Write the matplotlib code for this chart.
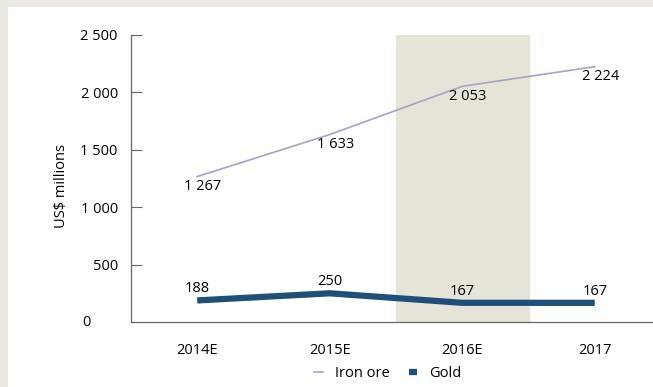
import numpy as np
import matplotlib.pyplot as plt
from matplotlib.lines import Line2D
from matplotlib.patches import Rectangle

plt.rcParams['font.family'] = ['Open Sans', 'DejaVu Sans']

years = ['2014E', '2015E', '2016E', '2017']
iron_ore = [1267, 1633, 2053, 2224]
gold = [188, 250, 167, 167]
yticks = [0, 500, 1000, 1500, 2000, 2500]
ytick_labels = ['0', '500', '1 000', '1 500', '2 000', '2 500']

iron_col = '#a3a3c6'
gold_col = '#1d4f7a'
beige = '#ebe9e1'
fs = 10.5

fig = plt.figure(figsize=(6.53, 3.87), dpi=100)
fig.patch.set_facecolor(beige)
fig.patches.append(Rectangle((8 / 653, 0), 1, 1 - 7 / 387, transform=fig.transFigure,
                             facecolor='white', edgecolor='none', zorder=-5))

ax = fig.add_axes([131 / 653, 1 - 322 / 387, 1 - 131 / 653, (322 - 35) / 387])
ax.set_zorder(2)
ax.set_facecolor('none')

x = np.arange(len(years)) + 0.5

# highlighted 2016E column
ax.axvspan(2, 3, color='#e6e4d8', zorder=0)

ax.plot(x, iron_ore, color=iron_col, lw=1.2, zorder=2)
ax.plot(x, gold, color=gold_col, lw=4.5, zorder=2, solid_capstyle='butt')

for xi, v in zip(x, iron_ore):
    s = f'{v:,}'.replace(',', ' ')
    ax.annotate(s, (xi, v), xytext=(4, -7), textcoords='offset points',
                ha='center', va='center', fontsize=fs)
for xi, v in zip(x, gold):
    ax.annotate(str(v), (xi, v), xytext=(0, 8.5), textcoords='offset points',
                ha='center', va='center', fontsize=fs)

ax.set_xlim(0, (653 - 131) / 132.5)
ax.set_ylim(0, 2500)
ax.set_xticks(x)
ax.set_xticklabels(years, fontsize=fs)
ax.set_yticks(yticks[1:])
ax.set_yticklabels(ytick_labels[1:], fontsize=fs)
ax.tick_params(axis='x', length=0, pad=15)
ax.tick_params(axis='y', direction='in', length=8, color='#666666', pad=9.5)
fig.text(86 / 653, 1 - 322 / 387, ytick_labels[0], ha='center', va='center', fontsize=fs)

for s in ['top', 'right']:
    ax.spines[s].set_visible(False)
for s in ['left', 'bottom']:
    ax.spines[s].set_color('#666666')
    ax.spines[s].set_linewidth(0.9)

fig.text(62 / 653, 1 - 186 / 387, 'US$ millions', rotation=90, ha='center', va='center', fontsize=fs)

handles = [Line2D([], [], color=iron_col, lw=1.2),
           Line2D([], [], color=gold_col, lw=4.5, solid_capstyle='butt')]
fig.legend(handles, ['Iron ore', 'Gold'], loc='center', bbox_to_anchor=(0.594, 0.034),
           ncol=2, frameon=False, fontsize=fs, handlelength=0.6, columnspacing=1.3,
           handletextpad=0.8)

fig.savefig('out.png', dpi=100, facecolor=fig.get_facecolor())
